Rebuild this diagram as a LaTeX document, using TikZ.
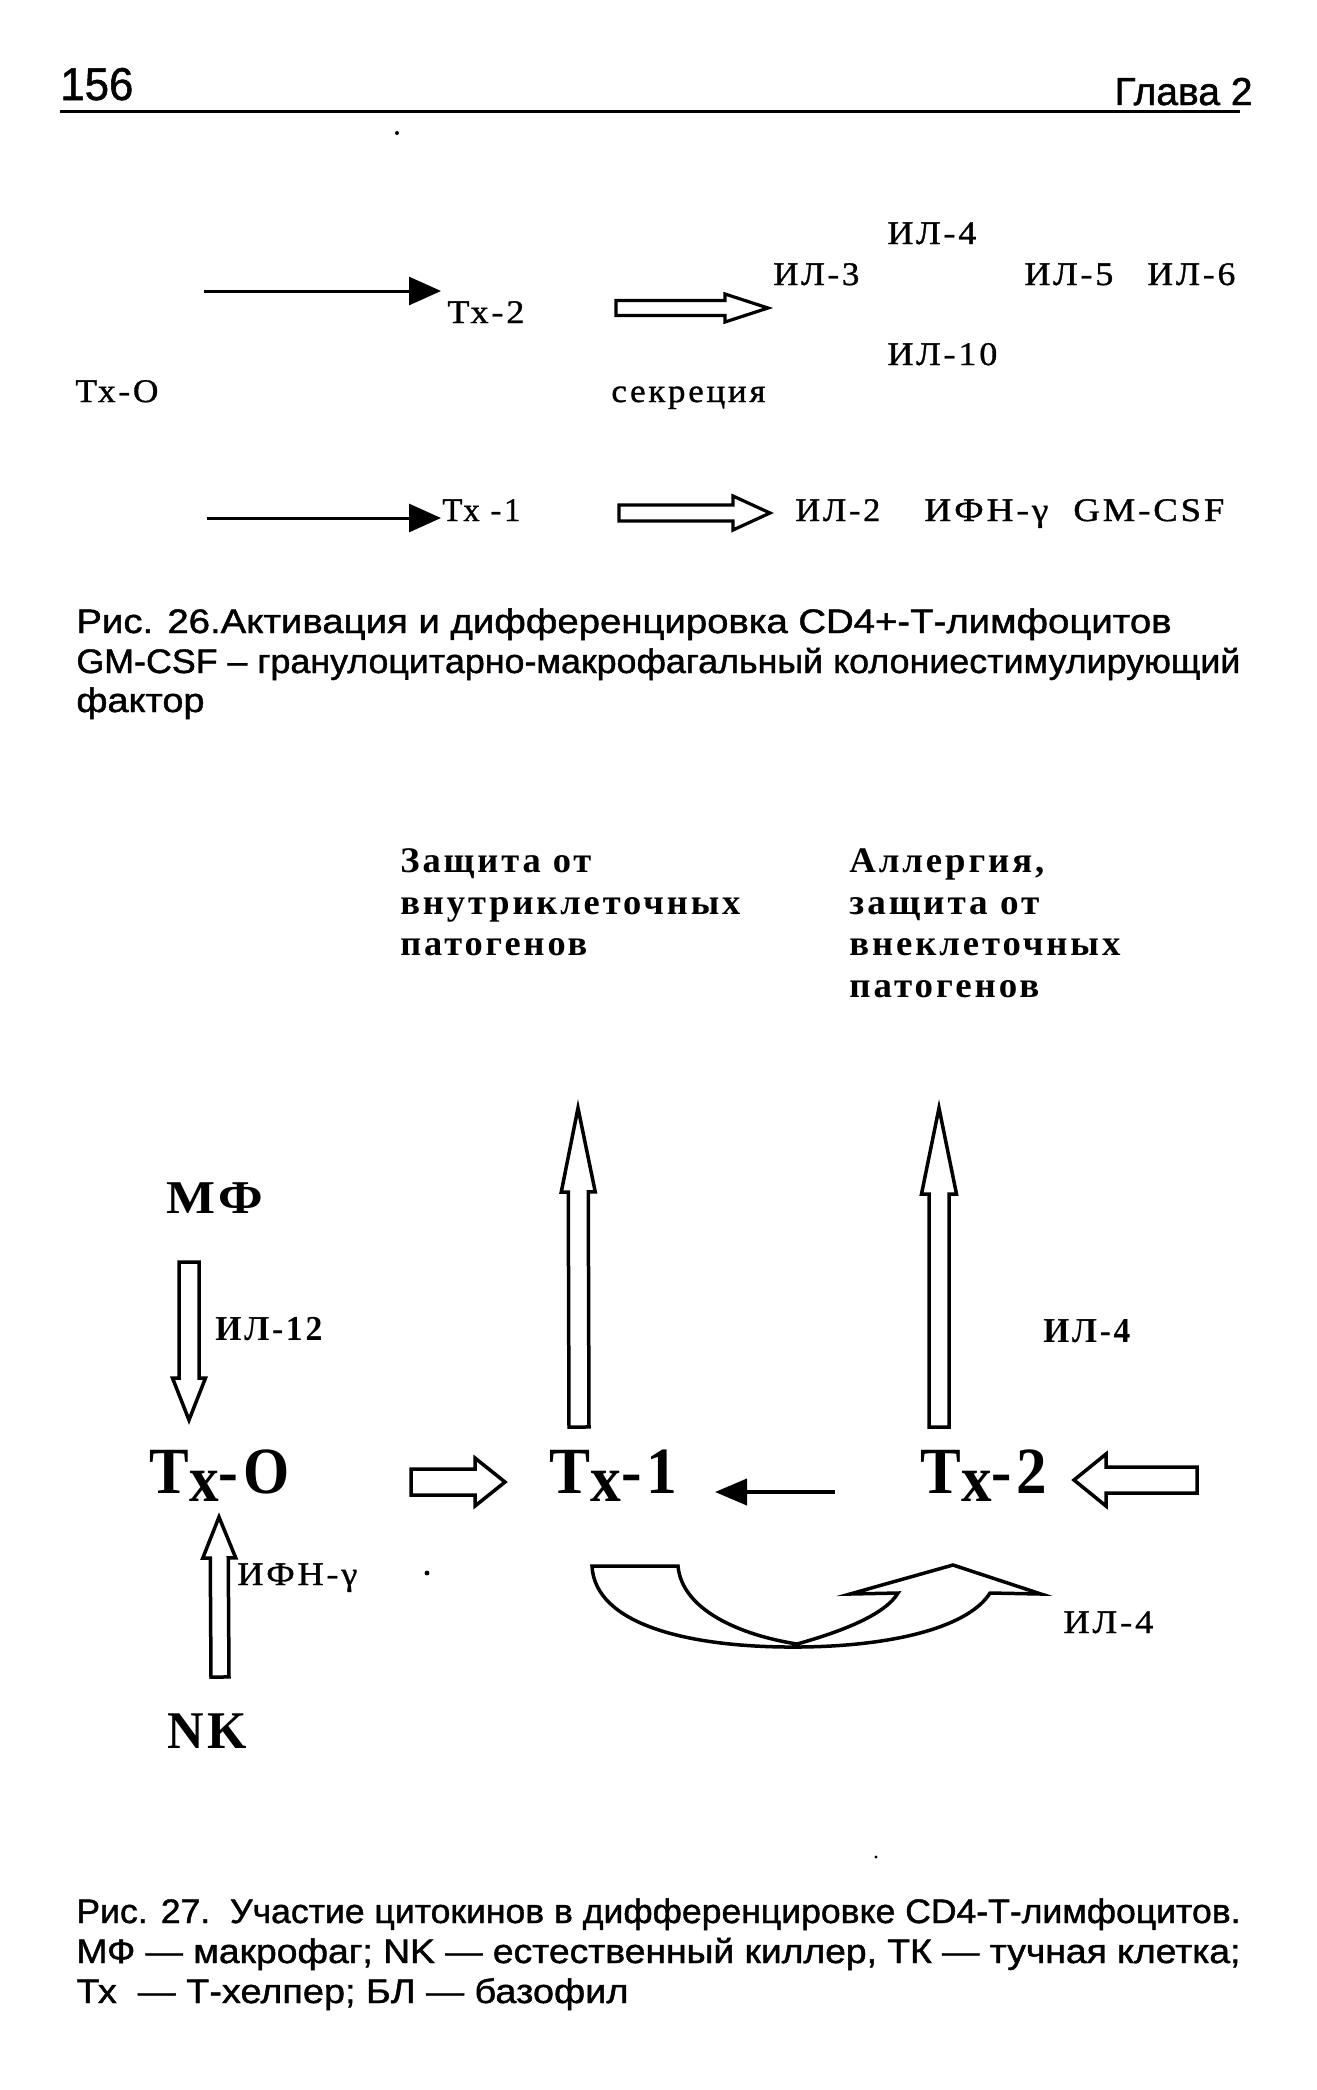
\documentclass[tikz,border=0pt]{standalone}
\usepackage{fontspec}
\usepackage{graphicx}
\usetikzlibrary{calc,arrows.meta}
\setmainfont{Liberation Serif}
\newfontfamily\capfont[FakeBold=1.2]{Liberation Sans}
\newfontfamily\lsfont[LetterSpace=8]{Liberation Serif}
\newfontfamily\lsrfont[LetterSpace=8,FakeBold=1.0]{Liberation Serif}
\newcommand\hfit[2]{\resizebox{#1}{\height}{#2}}
\newcommand\fa{\lsrfont\fontsize{16.5pt}{18pt}\selectfont}
\newcommand\fb[1]{\lsfont\bfseries\fontsize{#1}{#1}\selectfont}
\newcommand\cf{\capfont\fontsize{17pt}{18pt}\selectfont}
\newcommand\harrow[6][]{%
  \coordinate (hb) at ($(#3)!#6!(#2)$);
  \draw[hollow,#1] ($(#2)!#4!90:(#3)$) -- ($(hb)!#4!90:(#3)$) -- ($(hb)!#5!90:(#3)$) -- (#3)
    -- ($(hb)!#5!-90:(#3)$) -- ($(hb)!#4!-90:(#3)$) -- ($(#2)!#4!-90:(#3)$) -- cycle;}
\tikzset{
  lbl/.style={inner sep=0pt, anchor=base west},
  hollow/.style={draw=black, fill=white, line width=1.75pt, line join=miter},
  linearrow/.style={line width=1.5pt, -{Triangle[length=16pt,width=14pt]}},
}
\begin{document}
\begin{tikzpicture}[x=0.5pt,y=-0.5pt]
\useasboundingbox (0,0) rectangle (1317,2090);
\fill[white] (0,0) rectangle (1317,2090);
% header
\node[lbl] (pg) at (60,100) {\capfont\fontsize{23pt}{26pt}\selectfont\hfit{36.5pt}{156}};
\node[inner sep=0pt, anchor=base east] (chap) at (1253,105) {\capfont\fontsize{19.5pt}{22pt}\selectfont\hfit{69pt}{Глава 2}};
\coordinate (rl) at (60,111);
\coordinate (rr) at (1240,111);
\draw[line width=1.5pt] (rl) -- (rr);
\fill (397,133) circle[radius=1pt];
% Fig 26
\node[lbl] (i4) at (887,244) {\fa\hfit{44.5pt}{ИЛ-4}};
\node[lbl] (i3) at (773,285) {\fa\hfit{43pt}{ИЛ-3}};
\node[lbl] (i5) at (1024,285) {\fa\hfit{44.5pt}{ИЛ-5}};
\node[lbl] (i6) at (1147,285) {\fa\hfit{44pt}{ИЛ-6}};
\node[lbl] (t2a) at (447,323) {\fa\hfit{38.5pt}{Тх-2}};
\node[lbl] (i10) at (887,365) {\fa\hfit{55pt}{ИЛ-10}};
\node[lbl] (t0a) at (75,402) {\fa\hfit{41.5pt}{Тх-О}};
\node[lbl] (sec) at (611,402) {\fa\hfit{77pt}{секреция}};
\node[lbl] (t1a) at (442,521) {\fa\hfit{39pt}{Тх -1}};
\node[lbl] (i2) at (795,521) {\fa\hfit{42.5pt}{ИЛ-2}};
\node[lbl] (ifa) at (924,521) {\fa\hfit{62pt}{ИФН-γ}};
\node[lbl] (gm) at (1073,521) {\fa\hfit{75.5pt}{GM-CSF}};
\coordinate (a1s) at (204,291);
\coordinate (a1t) at (441,291);
\draw[linearrow] (a1s) -- (a1t);
\coordinate (a2s) at (207,518);
\coordinate (a2t) at (441,518);
\draw[linearrow] (a2s) -- (a2t);
\coordinate (h1s) at (616,308);
\coordinate (h1t) at (768,308);
\harrow[line width=1.6pt]{h1s}{h1t}{3.75pt}{7pt}{21.5pt}
\coordinate (h2s) at (619,513);
\coordinate (h2t) at (770,513);
\harrow[line width=1.6pt]{h2s}{h2t}{4pt}{8.5pt}{18.5pt}
% caption 26
\node[lbl] (c26a) at (76,633) {\cf\hfit{547.5pt}{Рис. 26.Активация и дифференцировка CD4+-Т-лимфоцитов}};
\node[lbl] (c26b) at (76,673) {\cf\hfit{582pt}{GM-CSF – гранулоцитарно-макрофагальный колониестимулирующий}};
\node[lbl] (c26c) at (76,712) {\cf\hfit{64pt}{фактор}};
% Fig 27 headings
\node[lbl] (p1a) at (400,872) {\fb{18pt}\hfit{95.5pt}{Защита от}};
\node[lbl] (p1b) at (400,914) {\fb{18pt}\hfit{170pt}{внутриклеточных}};
\node[lbl] (p1c) at (400,955) {\fb{18pt}\hfit{93.5pt}{патогенов}};
\node[lbl] (p2a) at (849,872) {\fb{18pt}\hfit{97.5pt}{Аллергия,}};
\node[lbl] (p2b) at (849,914) {\fb{18pt}\hfit{95pt}{защита от}};
\node[lbl] (p2c) at (849,955) {\fb{18pt}\hfit{135.5pt}{внеклеточных}};
\node[lbl] (p2d) at (849,997) {\fb{18pt}\hfit{95pt}{патогенов}};
% Fig 27 nodes
\node[lbl] (mf) at (166,1213) {\fb{23.5pt}\hfit{48.5pt}{МФ}};
\node[lbl] (il12) at (215,1340) {\fb{17.5pt}\hfit{53.5pt}{ИЛ-12}};
\node[lbl] (il4r) at (1043,1342) {\fb{17.5pt}\hfit{43.5pt}{ИЛ-4}};
\node[lbl] (tx0) at (149,1493) {\fb{33pt}\hfit{70pt}{Т\raisebox{-4pt}{х}-О}};
\node[lbl] (tx1) at (549,1493) {\fb{33pt}\hfit{64pt}{Т\raisebox{-4pt}{х}-1}};
\node[lbl] (tx2) at (920,1493) {\fb{33pt}\hfit{63.5pt}{Т\raisebox{-4pt}{х}-2}};
\node[lbl] (ifn) at (237,1585) {\fa\hfit{60pt}{ИФН-γ}};
\node[lbl] (nk) at (167,1748) {\fb{26.5pt}\hfit{40pt}{NK}};
\node[lbl] (il4b) at (1063,1633) {\fa\hfit{45pt}{ИЛ-4}};
% Fig 27 arrows
\coordinate (m1s) at (189,1262);
\coordinate (m1t) at (189,1420);
\harrow{m1s}{m1t}{5pt}{8.25pt}{21pt}
\coordinate (n1s) at (220,1677);
\coordinate (n1t) at (219,1517);
\harrow{n1s}{n1t}{4.5pt}{8.25pt}{20.5pt}
\coordinate (o1s) at (411,1482);
\coordinate (o1t) at (505,1482);
\harrow{o1s}{o1t}{6.5pt}{12pt}{15pt}
\coordinate (u1s) at (579,1427);
\coordinate (u1t) at (578,1108);
\harrow{u1s}{u1t}{5pt}{8.5pt}{42pt}
\coordinate (u2s) at (939,1427);
\coordinate (u2t) at (939,1108);
\harrow{u2s}{u2t}{5pt}{8.75pt}{43pt}
\coordinate (r1s) at (1197,1480);
\coordinate (r1t) at (1074,1480);
\harrow{r1s}{r1t}{6.5pt}{13pt}{16pt}
\coordinate (f1s) at (835,1492);
\coordinate (f1t) at (715,1492);
\draw[line width=2pt, -{Triangle[length=16pt,width=13pt]}] (f1s) -- (f1t);
% curved IL-4 arrow
\draw[hollow] (592,1566) -- (678,1566) .. controls (682,1610) and (740,1635) .. (797,1644)
  .. controls (840,1632) and (885,1615) .. (898,1593) -- (850,1594) -- (953,1565) -- (1041,1594) -- (990,1593)
  .. controls (970,1625) and (900,1646) .. (800,1647) .. controls (690,1648) and (595,1625) .. (592,1566) -- cycle;
\fill (427,1573) circle[radius=1.2pt];
\fill (876,1857) circle[radius=0.8pt];
% caption 27
\node[lbl] (c27a) at (76,1923) {\cf\hfit{582pt}{Рис. 27.\ \ Участие цитокинов в дифференцировке CD4-Т-лимфоцитов.}};
\node[lbl] (c27b) at (76,1963) {\cf\hfit{582pt}{МФ — макрофаг; NK — естественный киллер, ТК — тучная клетка;}};
\node[lbl] (c27c) at (76,2003) {\cf\hfit{276pt}{Тх\ \ — Т-хелпер; БЛ — базофил}};
\end{tikzpicture}
\end{document}
